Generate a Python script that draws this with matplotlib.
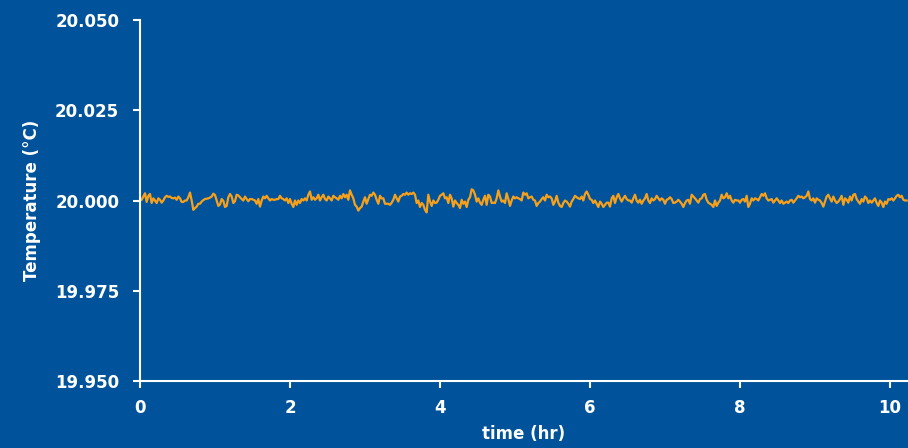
import numpy as np
import matplotlib
matplotlib.use("Agg")
import matplotlib.pyplot as plt


BG = "#00539B"
LINE_COLOR = "#F9A01B"
FG = "white"

# one reading every 1/45 hr
SAMPLE_STEP_HR = 1.0 / 45.0

temp_0_2hr = [
    20.0000, 20.0002, 20.0011, 20.0020, 19.9996, 20.0013, 20.0018, 19.9993, 20.0006, 20.0000,
    19.9993, 20.0006, 20.0002, 19.9994, 20.0000, 20.0009, 20.0013, 20.0010, 20.0011, 20.0007,
    20.0006, 20.0008, 20.0002, 20.0011, 20.0006, 19.9996, 19.9996, 20.0000, 20.0000, 20.0009,
    20.0022, 20.0000, 19.9974, 19.9979, 19.9983, 19.9991, 19.9991, 19.9997, 20.0001, 20.0004,
    20.0005, 20.0006, 20.0008, 20.0011, 20.0019, 20.0015, 20.0000, 19.9985, 19.9989, 20.0004,
    19.9999, 19.9982, 19.9985, 20.0009, 20.0018, 20.0011, 19.9993, 19.9998, 20.0016, 20.0014,
    20.0009, 20.0004, 20.0000, 20.0011, 20.0004, 19.9998, 20.0004, 20.0004, 20.0002,
]
temp_2_3hr = [
    20.0000, 19.9991, 20.0004, 19.9983, 20.0000, 20.0011, 20.0006, 20.0013, 20.0006, 20.0000,
    20.0004, 20.0002, 20.0002, 20.0004, 20.0004, 20.0013, 20.0006, 20.0004, 20.0000, 20.0006,
    19.9993, 20.0004, 19.9991, 19.9982, 20.0000, 19.9988, 20.0000, 19.9993, 20.0004, 20.0000,
    20.0006, 20.0000, 20.0016, 20.0025, 20.0002, 20.0009, 20.0002, 20.0006, 20.0016, 20.0000,
    20.0009, 20.0016, 20.0004, 20.0000, 20.0011, 20.0006, 20.0000, 20.0013, 20.0009, 20.0006,
    20.0002, 20.0013, 20.0006, 20.0018, 20.0009, 20.0016, 20.0002, 20.0028, 20.0016, 20.0006,
    19.9988, 19.9983, 19.9972, 19.9979, 19.9983, 19.9997, 20.0009, 19.9991, 20.0004, 20.0016,
    20.0013, 20.0022, 20.0016, 20.0002, 19.9991,
]
temp_3_5hr = [
    20.0013, 20.0006, 20.0006, 19.9991, 19.9991, 19.9991, 19.9988, 19.9994, 20.0002, 20.0016,
    20.0006, 19.9997, 20.0011, 20.0013, 20.0018, 20.0016, 20.0022, 20.0016, 20.0020, 20.0018,
    20.0022, 20.0016, 19.9993, 20.0000, 19.9982, 19.9993, 19.9988, 19.9974, 19.9967, 20.0016,
    19.9997, 19.9985, 20.0000, 19.9993, 19.9994, 20.0002, 20.0013, 20.0016, 20.0020, 20.0006,
    20.0009, 19.9993, 20.0016, 20.0006, 19.9983, 20.0000, 19.9993, 19.9988, 19.9979, 20.0002,
    19.9991, 19.9997, 19.9982, 20.0002, 20.0009, 20.0031, 20.0028, 20.0016, 19.9997, 20.0006,
    19.9994, 19.9988, 20.0002, 20.0013, 19.9988, 20.0016, 20.0011, 19.9993, 19.9994, 19.9993,
    20.0006, 20.0028, 20.0011, 19.9997, 20.0000,
]
temp_5_6hr = [
    19.9993, 20.0020, 20.0004, 19.9985, 20.0000, 20.0011, 20.0006, 20.0009, 20.0006, 20.0004,
    20.0000, 20.0022, 20.0016, 20.0020, 20.0006, 20.0009, 20.0011, 20.0002, 20.0000, 19.9985,
    19.9993, 19.9997, 20.0004, 20.0009, 20.0000, 20.0016, 20.0009, 20.0011, 20.0006, 19.9988,
    19.9997, 20.0013, 19.9994, 19.9985, 19.9982, 19.9993, 20.0000, 19.9997, 19.9991, 19.9983,
    19.9997, 20.0004, 20.0013, 20.0009, 20.0006, 20.0004, 20.0011, 20.0000, 20.0018, 20.0025,
    20.0016, 20.0004, 20.0002, 19.9993, 20.0000, 19.9991, 19.9982, 19.9997, 19.9991, 19.9982,
    19.9988, 19.9994, 19.9994, 19.9983, 20.0006, 20.0013, 19.9993, 20.0009, 20.0018, 20.0006,
    19.9997, 20.0006, 20.0013, 20.0004, 20.0000,
]
temp_6_8hr = [
    20.0000, 19.9994, 20.0006, 20.0016, 20.0000, 19.9994, 20.0002, 19.9991, 20.0000, 20.0006,
    20.0018, 20.0000, 19.9993, 20.0006, 20.0000, 20.0004, 20.0013, 20.0006, 20.0000, 20.0006,
    20.0002, 19.9991, 20.0002, 20.0004, 20.0009, 20.0004, 19.9993, 19.9994, 19.9997, 20.0002,
    19.9997, 19.9991, 19.9982, 19.9993, 20.0000, 20.0002, 19.9991, 20.0016, 20.0011, 20.0006,
    20.0000, 19.9994, 20.0004, 20.0006, 20.0016, 20.0018, 20.0002, 19.9994, 19.9991, 19.9988,
    19.9982, 20.0000, 19.9985, 19.9994, 20.0000, 20.0016, 20.0006, 20.0009, 20.0020, 20.0006,
    20.0013, 20.0000, 19.9994, 20.0002, 20.0000, 20.0000, 19.9994, 20.0002, 20.0004, 19.9997,
    20.0013, 19.9982, 19.9991, 20.0006, 20.0000,
]
temp_8_10hr = [
    20.0006, 20.0004, 20.0000, 20.0009, 20.0018, 20.0013, 20.0020, 20.0006, 20.0000, 20.0002,
    20.0004, 19.9994, 20.0000, 20.0006, 20.0000, 19.9993, 20.0000, 19.9991, 19.9994, 19.9997,
    19.9993, 20.0000, 20.0002, 19.9994, 20.0000, 20.0006, 20.0013, 20.0009, 20.0011, 20.0006,
    20.0009, 20.0013, 20.0025, 20.0004, 20.0000, 20.0006, 19.9994, 20.0006, 20.0002, 20.0000,
    19.9993, 19.9983, 19.9997, 20.0011, 20.0016, 20.0006, 19.9997, 20.0011, 20.0000, 19.9993,
    19.9997, 20.0004, 20.0013, 19.9988, 20.0006, 20.0002, 19.9994, 20.0011, 20.0000, 20.0016,
    20.0018, 20.0004, 19.9997, 19.9991, 20.0004, 19.9997, 20.0011, 20.0006, 19.9993, 20.0000,
    19.9994, 20.0000, 20.0006, 19.9993, 19.9985, 20.0000, 19.9994, 19.9982, 19.9997, 19.9991,
    20.0004, 20.0002, 20.0006, 20.0000, 20.0006, 20.0013, 20.0016, 20.0009, 20.0013, 20.0002,
    20.0000, 20.0000,
]

y_ticks = [19.950, 19.975, 20.000, 20.025, 20.050]
x_ticks = [0, 2, 4, 6, 8, 10]
x_max = 10.24


temp = np.array(temp_0_2hr + temp_2_3hr + temp_3_5hr + temp_5_6hr + temp_6_8hr + temp_8_10hr)
time_hr = np.arange(len(temp)) * SAMPLE_STEP_HR

plt.rcParams["font.family"] = ["DejaVu Sans"]
plt.rcParams["font.weight"] = "bold"

fig = plt.figure(figsize=(9.08, 4.48), dpi=100, facecolor=BG)
ax = fig.add_axes([140 / 908, 67 / 448, 768 / 908, 361 / 448], facecolor=BG)

ax.plot(time_hr, temp, color=LINE_COLOR, linewidth=1.6)

ax.set_xlim(0, x_max)
ax.set_ylim(19.95, 20.05)
ax.set_xticks(x_ticks)
ax.set_yticks(y_ticks)
ax.set_yticklabels(["{:.3f}".format(v) for v in y_ticks])

for s in ["top", "right"]:
    ax.spines[s].set_visible(False)
for s in ["left", "bottom"]:
    ax.spines[s].set_color(FG)
    ax.spines[s].set_linewidth(1.5)

ax.tick_params(axis="both", colors=FG, length=5, width=1.5, labelsize=12)
ax.tick_params(axis="y", pad=10)
ax.tick_params(axis="x", pad=8)

ax.set_xlabel("time (hr)", color=FG, fontsize=12, fontweight="bold", labelpad=6)
ax.set_ylabel("Temperature (°C)", color=FG, fontsize=12, fontweight="bold", labelpad=10)

fig.savefig("out.png", dpi=100, facecolor=BG)
